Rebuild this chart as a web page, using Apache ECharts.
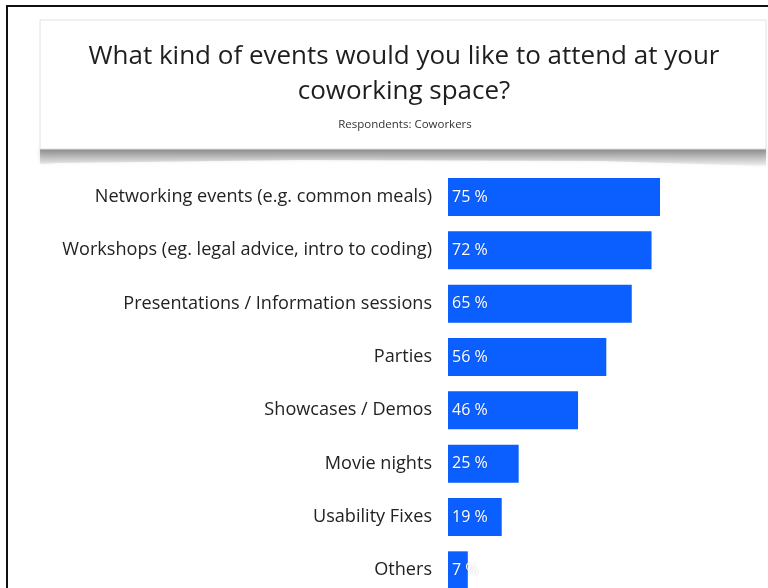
<!DOCTYPE html>
<html>
<head>
<meta charset="utf-8">
<script src="https://cdn.jsdelivr.net/npm/echarts@6/dist/echarts.min.js"></script>
<style>
  html, body { margin: 0; padding: 0; background: #fff; }
  #chart { width: 768px; height: 588px; }
</style>
</head>
<body>
<div id="chart"></div>
<script>
// Survey answers, top to bottom
const categories = [
  'Networking events (e.g. common meals)',
  'Workshops (eg. legal advice, intro to coding)',
  'Presentations / Information sessions',
  'Parties',
  'Showcases / Demos',
  'Movie nights',
  'Usability Fixes',
  'Others'
];
const shares = [75, 72, 65, 56, 46, 25, 19, 7];

const titleLines = ['What kind of events would you like to attend at your', 'coworking space?'];
const subtitleText = 'Respondents: Coworkers';

const FONT = '"Open Sans", Lato, sans-serif';
const BAR_BLUE = '#0b5fff';

const chart = echarts.init(document.getElementById('chart'), null, { renderer: 'canvas' });

chart.setOption({
  backgroundColor: '#ffffff',
  animation: false,
  grid: {
    left: 448, top: 170.3, width: 282.7, height: 426.7,
    containLabel: false,
    outerBoundsMode: 'none'
  },
  xAxis: {
    type: 'value', min: 0, max: 100, show: false
  },
  yAxis: {
    type: 'category',
    data: categories,
    inverse: true,
    axisLine: { show: false },
    axisTick: { show: false },
    splitLine: { show: false },
    axisLabel: {
      color: '#222',
      fontFamily: FONT,
      fontSize: 18.1,
      margin: 16
    }
  },
  series: [{
    type: 'bar',
    data: shares,
    barWidth: 38,
    itemStyle: { color: BAR_BLUE },
    label: {
      show: true,
      position: 'insideLeft',
      distance: 4,
      color: '#fff',
      fontFamily: FONT,
      fontSize: 16,
      textShadowColor: 'rgba(0,0,0,0.18)',
      textShadowBlur: 2,
      formatter: p => p.value + ' %'
    }
  }],
  graphic: [
    // outer frame
    { type: 'line', shape: { x1: 7, y1: 6, x2: 7, y2: 588 }, style: { stroke: '#111', lineWidth: 2 }, z: 10 },
    { type: 'line', shape: { x1: 6, y1: 6, x2: 768, y2: 6 }, style: { stroke: '#111', lineWidth: 2 }, z: 10 },
    // curled shadow under the heading card
    {
      type: 'polygon',
      shape: { points: [[40, 148], [766, 148], [766, 166], [600, 161], [300, 160], [60, 163], [40, 164]] },
      style: {
        fill: new echarts.graphic.LinearGradient(0, 0, 0, 1, [
          { offset: 0, color: 'rgba(120,120,120,0.9)' },
          { offset: 1, color: 'rgba(180,180,180,0.15)' }
        ]),
        shadowColor: 'rgba(0,0,0,0.2)',
        shadowBlur: 4
      },
      z: 1
    },
    // heading card
    {
      type: 'rect',
      shape: { x: 40, y: 20, width: 726, height: 129 },
      style: { fill: '#fff', stroke: '#e2e2e2', lineWidth: 1 },
      z: 2
    },
    {
      type: 'text',
      x: 404, y: 39,
      style: {
        text: titleLines.join('\n'),
        fill: '#1e1e1e',
        font: '26px ' + FONT,
        align: 'center',
        verticalAlign: 'top',
        lineHeight: 35
      },
      z: 3
    },
    {
      type: 'text',
      x: 405, y: 125,
      style: {
        text: subtitleText,
        fill: '#333',
        font: '11.5px ' + FONT,
        align: 'center',
        verticalAlign: 'middle'
      },
      z: 3
    }
  ]
});
</script>
</body>
</html>
